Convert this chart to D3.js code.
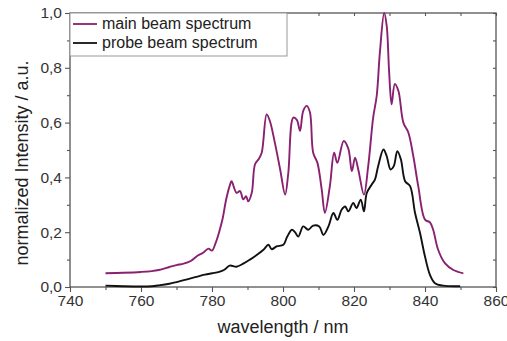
<!DOCTYPE html>
<html><head><meta charset="utf-8">
<script src="https://cdn.jsdelivr.net/npm/d3@7"></script>
<style>body{margin:0;background:#fff}svg{display:block}text{font-family:"Liberation Sans",Arial,sans-serif}</style>
</head><body>
<svg id="c" width="507" height="341"></svg>
<script>
const mainWl = [750,755,760,763,765,768,770,772,774,776,777.5,779,780,781,782,783,784,785,785.5,786.9,787.9,788.8,789.6,790.2,791.2,792.1,793.1,794,795.4,796.3,797.7,799.2,800.6,801.5,802.9,803.9,804.8,805.7,806.7,807.6,808.5,809.7,810.9,811.8,813.2,814.4,815.3,817.1,818.4,819.4,820.3,821.2,822.8,824,825.4,826.4,827.3,828.5,829.2,829.9,830.6,831.5,832.5,833.9,835.3,836.7,838.1,840,841.4,842.3,843.7,845.6,848,850.8];
const mainVal = [0.05,0.052,0.055,0.058,0.062,0.073,0.08,0.085,0.095,0.115,0.125,0.14,0.133,0.16,0.2,0.25,0.32,0.37,0.386,0.344,0.35,0.32,0.331,0.313,0.344,0.447,0.466,0.49,0.63,0.606,0.527,0.429,0.337,0.417,0.618,0.61,0.57,0.643,0.661,0.637,0.49,0.453,0.356,0.27,0.368,0.49,0.453,0.533,0.505,0.423,0.472,0.429,0.337,0.441,0.618,0.698,0.857,1.0,0.955,0.784,0.667,0.741,0.716,0.6,0.564,0.478,0.368,0.246,0.236,0.209,0.136,0.087,0.062,0.05];
const probeWl = [750,755,760,763,765,768,770,773,775,778,780,782,783.5,785,786.9,788.8,790.7,792.6,794.5,795.9,796.8,798.2,800.1,801.2,802.5,803.4,804.3,805.7,807.1,808.5,810.2,811.4,812.8,814.2,815.3,816.5,817.5,818.4,819.8,820.7,821.9,822.8,823.6,825,825.9,826.8,828.3,829.2,830.3,831.2,832.2,833.2,834.4,835.8,837.2,838.6,840,841.4,842.8,845.1,849.9];
const probeVal = [0.005,0.003,0.002,0.003,0.006,0.012,0.018,0.028,0.035,0.045,0.05,0.055,0.063,0.078,0.074,0.085,0.1,0.117,0.136,0.154,0.138,0.148,0.154,0.184,0.209,0.2,0.184,0.221,0.209,0.224,0.221,0.19,0.221,0.27,0.245,0.282,0.294,0.276,0.307,0.288,0.319,0.276,0.343,0.374,0.392,0.441,0.502,0.478,0.429,0.441,0.496,0.466,0.386,0.368,0.27,0.197,0.111,0.044,0.014,0.005,0.003];
const xTicks = [740,760,780,800,820,840,860];
const yTicks = [0,0.2,0.4,0.6,0.8,1.0];
const seriesNames = ["main beam spectrum","probe beam spectrum"];

const svg = d3.select("#c");
const L=70,R=496,T=13,B=287;
const x = d3.scaleLinear().domain([740,860]).range([L,R]);
const y = d3.scaleLinear().domain([0,1]).range([B,T]);
const axisCol="#555";

svg.append("rect").attr("x",L).attr("y",T).attr("width",R-L).attr("height",B-T)
  .attr("fill","none").attr("stroke",axisCol).attr("stroke-width",1.3);

const fmt = d => d3.format(".1f")(d).replace(".",",");
const xMinor = d3.range(750,860,20);
const yMinor = d3.range(0.1,1,0.2);

const gx = svg.append("g").attr("transform",`translate(0,${B})`)
  .call(d3.axisBottom(x).tickValues(xTicks).tickSize(5).tickPadding(3).tickFormat(d3.format("d")));
const gxm = svg.append("g").attr("transform",`translate(0,${B})`)
  .call(d3.axisBottom(x).tickValues(xMinor).tickSize(3).tickFormat(""));
const gy = svg.append("g").attr("transform",`translate(${L},0)`)
  .call(d3.axisLeft(y).tickValues(yTicks).tickSize(5).tickPadding(3).tickFormat(fmt));
const gym = svg.append("g").attr("transform",`translate(${L},0)`)
  .call(d3.axisLeft(y).tickValues(yMinor).tickSize(3).tickFormat(""));
const gt = svg.append("g").attr("transform",`translate(0,${T})`)
  .call(d3.axisBottom(x).tickValues(xTicks.concat(xMinor)).tickSize(3).tickFormat(""));
const gr = svg.append("g").attr("transform",`translate(${R},0)`)
  .call(d3.axisLeft(y).tickValues(yTicks.concat(yMinor)).tickSize(3).tickFormat(""));
[gx,gxm,gy,gym,gt,gr].forEach(g=>{
  g.select(".domain").remove();
  g.selectAll("line").attr("stroke",axisCol).attr("stroke-width",1.1);
  g.selectAll("text").attr("fill","#333").style("font-size","15.5px").style("font-family","'Liberation Sans',Arial,sans-serif");
});

const line = d3.line().x(d=>x(d[0])).y(d=>y(d[1])).curve(d3.curveCatmullRom.alpha(0.5));
const mainData = mainWl.map((w,i)=>[w,mainVal[i]]);
const probeData = probeWl.map((w,i)=>[w,probeVal[i]]);
svg.append("path").datum(mainData).attr("d",line).attr("fill","none")
  .attr("stroke","#8a2070").attr("stroke-width",1.9).attr("stroke-linejoin","round");
svg.append("path").datum(probeData).attr("d",line).attr("fill","none")
  .attr("stroke","#111").attr("stroke-width",1.9).attr("stroke-linejoin","round");

svg.append("rect").attr("x",L).attr("y",T).attr("width",217).attr("height",43)
  .attr("fill","#fff").attr("stroke","#999").attr("stroke-width",1);
const legCols=["#8a2070","#111"];
seriesNames.forEach((n,i)=>{
  const ly = 24 + i*19;
  svg.append("line").attr("x1",73).attr("x2",97).attr("y1",ly).attr("y2",ly)
    .attr("stroke",legCols[i]).attr("stroke-width",1.8);
  svg.append("text").attr("x",102).attr("y",ly+5).text(n)
    .style("font-size","16px").attr("fill","#222");
});

svg.append("text").attr("x",283).attr("y",333).attr("text-anchor","middle")
  .style("font-size","18px").attr("fill","#222").text("wavelength / nm");
svg.append("text").attr("transform","translate(28,163) rotate(-90)").attr("text-anchor","middle")
  .style("font-size","18px").attr("fill","#222").text("normalized Intensity / a.u.");
</script>
</body></html>
